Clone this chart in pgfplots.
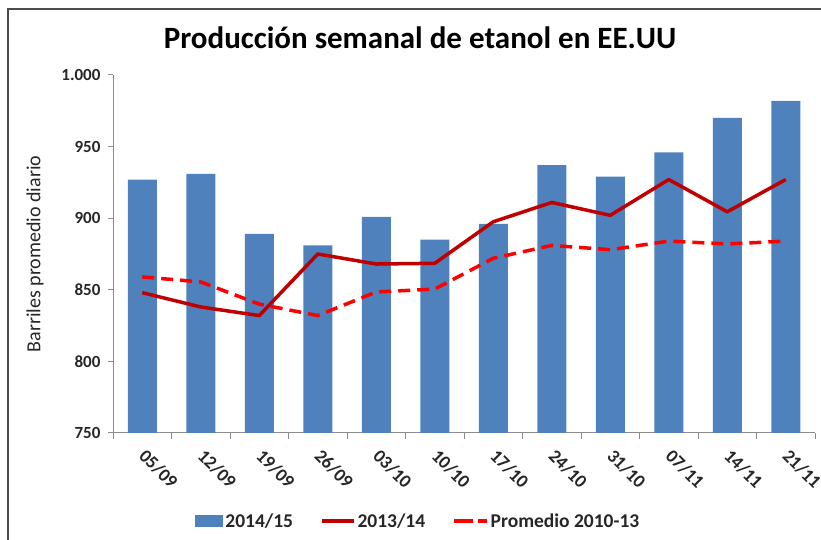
\documentclass[border=0pt]{standalone}
\usepackage{pgfplots}
\pgfplotsset{compat=1.18}
\usepackage{fontspec}
\setmainfont{Carlito}
\definecolor{barblue}{HTML}{4F81BD}
\definecolor{darkred}{HTML}{C00000}
\definecolor{labgray}{HTML}{262626}
\begin{document}
\begin{tikzpicture}[x=1pt,y=1pt]
\useasboundingbox (0,0) rectangle (821,540);
\draw[color=black!70, line width=2pt] (7.5,0) -- (7.5,531) -- (821,531);
\node[font=\bfseries\fontsize{31}{36}\selectfont] at (420,502) {Producción semanal de etanol en EE.UU};
\begin{axis}[
  at={(113pt,107pt)}, anchor=south west,
  scale only axis, width=702pt, height=358pt,
  xmin=-0.5, xmax=11.5, ymin=750, ymax=1000,
  axis x line=bottom, axis y line=left,
  axis line style={-, draw=black!45, line width=1pt},
  ytick={750,800,...,1000},
  /pgf/number format/.cd, 1000 sep={.}, assume math mode=true,
  /pgfplots/.cd,
  yticklabel style={font=\bfseries\fontsize{17}{20}\selectfont, text=labgray, xshift=-4pt},
  xtick={0,...,11},
  xticklabels={05/09,12/09,19/09,26/09,03/10,10/10,17/10,24/10,31/10,07/11,14/11,21/11},
  xticklabel style={font=\bfseries\fontsize{18.5}{21}\selectfont, text=labgray, xshift=5pt, yshift=-5pt, rotate=-45, anchor=north west},
  minor xtick={-0.5,0.5,...,11.5},
  tick align=outside,
  major tick length=5pt, minor tick length=6pt,
  x tick style={draw=none},
  minor x tick style={draw=black!45, line width=1pt},
  y tick style={draw=black!45, line width=1pt},
  ylabel={Barriles promedio diario},
  ylabel style={font=\fontsize{20}{23}\selectfont, text=labgray, at={(axis description cs:-0.111,0.5)}, anchor=center},
  legend columns=3,
  legend style={at={(0.435,-0.246)}, anchor=center, draw=none, fill=none,
    font=\bfseries\fontsize{19.5}{22}\selectfont, text=labgray,
    /tikz/every even column/.append style={column sep=25pt}},
  legend cell align=left,
  clip=false,
]
\addplot[ybar, bar width=29pt, fill=barblue, draw=none,
  legend image code/.code={\fill[barblue] (0pt,-6pt) rectangle (28pt,6pt);}] coordinates {
(0,927) (1,931) (2,889) (3,881) (4,901) (5,885) (6,896) (7,937) (8,929) (9,946) (10,970) (11,982)};
\addlegendentry{2014/15}
\addplot[darkred, line width=3.5pt, line join=round,
  legend image code/.code={\draw[darkred, line width=3.5pt] (0pt,0pt) -- (32pt,0pt);}] coordinates {
(0,848) (1,838) (2,832) (3,875) (4,868) (5,868.5) (6,897.5) (7,911) (8,902) (9,927) (10,904.5) (11,927)};
\addlegendentry{2013/14}
\addplot[red, line width=3.5pt, dash pattern=on 12pt off 7pt,
  legend image code/.code={\draw[red, line width=3.5pt, dash pattern=on 19pt off 5pt] (0pt,0pt) -- (33pt,0pt);}] coordinates {
(0,859) (1,855.5) (2,840) (3,832) (4,848.5) (5,850.5) (6,872) (7,881) (8,878) (9,884) (10,882) (11,884)};
\addlegendentry{Promedio 2010-13}
\end{axis}
\end{tikzpicture}
\end{document}
